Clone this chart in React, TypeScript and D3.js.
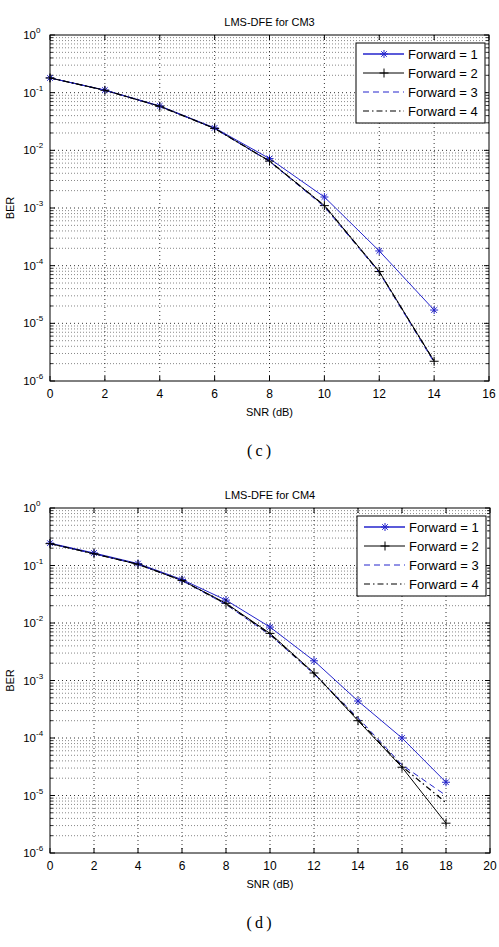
import React from 'react';
import * as d3 from 'd3';

// SNR (dB) points
const snrCM3 = [0, 2, 4, 6, 8, 10, 12, 14];
const snrCM4 = [0, 2, 4, 6, 8, 10, 12, 14, 16, 18];

// BER, CM3
const cm3Fwd1 = [0.18, 0.111, 0.059, 0.0245, 0.0072, 0.00155, 1.8e-4, 1.7e-5];
const cm3Fwd2 = [0.18, 0.11, 0.058, 0.024, 0.0065, 0.0011, 7.9e-5, 2.2e-6];
const cm3Fwd3 = [0.18, 0.11, 0.058, 0.024, 0.0064, 0.00105, 7.6e-5, 2.1e-6];
const cm3Fwd4 = [0.18, 0.11, 0.058, 0.024, 0.0065, 0.0011, 7.8e-5, 2.2e-6];

// BER, CM4
const cm4Fwd1 = [0.245, 0.165, 0.108, 0.057, 0.025, 0.0085, 0.0022, 4.4e-4, 1.0e-4, 1.7e-5];
const cm4Fwd2 = [0.24, 0.16, 0.105, 0.055, 0.022, 0.0066, 1.35e-3, 2.0e-4, 3.1e-5, 3.3e-6];
const cm4Fwd3 = [0.24, 0.16, 0.105, 0.055, 0.021, 0.0062, 1.3e-3, 2.25e-4, 3.4e-5, 1.0e-5];
const cm4Fwd4 = [0.24, 0.16, 0.105, 0.055, 0.0215, 0.0064, 1.32e-3, 2.1e-4, 3.2e-5, 7.5e-6];

const legendLabels = ['Forward = 1', 'Forward = 2', 'Forward = 3', 'Forward = 4'];
const decades = [0, -1, -2, -3, -4, -5, -6];

const BLUE = '#2424cc';
const FONT = '"Liberation Sans", Arial, sans-serif';

type Style = { color: string; dash?: string; marker?: 'star' | 'plus'; width: number };
const styles: Style[] = [
  { color: BLUE, marker: 'star', width: 1 },
  { color: '#000', marker: 'plus', width: 1 },
  { color: BLUE, dash: '6,4', width: 1 },
  { color: '#000', dash: '6,3,1.5,3', width: 1.2 },
];

function Marker({ kind, x, y, color }: { kind?: string; x: number; y: number; color: string }) {
  if (!kind) return null;
  const r = 4;
  const d = kind === 'star'
    ? `M${x - r},${y}H${x + r}M${x},${y - r}V${y + r}M${x - 2.8},${y - 2.8}L${x + 2.8},${y + 2.8}M${x - 2.8},${y + 2.8}L${x + 2.8},${y - 2.8}`
    : `M${x - 4.5},${y}H${x + 4.5}M${x},${y - 4.5}V${y + 4.5}`;
  return <path d={d} stroke={color} strokeWidth={1} fill="none" />;
}

type PanelProps = {
  left: number; right: number; top: number; bottom: number;
  xMax: number; snr: number[]; data: number[][];
  title: string; caption: string; captionY: number;
};

function Panel({ left, right, top, bottom, xMax, snr, data, title, caption, captionY }: PanelProps) {
  const x = d3.scaleLinear().domain([0, xMax]).range([left, right]);
  const y = d3.scaleLog().domain([1e-6, 1]).range([bottom, top]);
  const xTicks = d3.range(0, xMax + 1, 2);
  const minors: number[] = [];
  decades.slice(1).forEach(e => {
    for (let k = 2; k <= 9; k++) minors.push(k * Math.pow(10, e));
  });
  const line = d3.line<number>().x((_, i) => x(snr[i])).y(d => y(d));

  const lgX = right - 133, lgY = top + 8, lgW = 129, lgH = 80;

  return (
    <g fontFamily={FONT}>
      <text x={(left + right) / 2} y={top - 9} fontSize={11} textAnchor="middle">{title}</text>
      {/* minor grid */}
      {minors.map(v => (
        <line key={'mg' + v} x1={left} x2={right} y1={y(v)} y2={y(v)}
          stroke="#555" strokeWidth={0.7} strokeDasharray="1,2" />
      ))}
      {/* major grid */}
      {decades.slice(1, -1).map(e => (
        <line key={'yg' + e} x1={left} x2={right} y1={y(Math.pow(10, e))} y2={y(Math.pow(10, e))}
          stroke="#000" strokeWidth={0.8} strokeDasharray="1,3" />
      ))}
      {xTicks.slice(1, -1).map(t => (
        <line key={'xg' + t} x1={x(t)} x2={x(t)} y1={top} y2={bottom}
          stroke="#000" strokeWidth={0.8} strokeDasharray="1,3" />
      ))}
      {/* ticks */}
      {minors.map(v => (
        <g key={'mt' + v} stroke="#000" strokeWidth={0.8}>
          <line x1={left} x2={left + 3} y1={y(v)} y2={y(v)} />
          <line x1={right} x2={right - 3} y1={y(v)} y2={y(v)} />
        </g>
      ))}
      {decades.map(e => (
        <g key={'yt' + e}>
          <line x1={left} x2={left + 5} y1={y(Math.pow(10, e))} y2={y(Math.pow(10, e))} stroke="#000" />
          <line x1={right} x2={right - 5} y1={y(Math.pow(10, e))} y2={y(Math.pow(10, e))} stroke="#000" />
          <text x={left - 14} y={y(Math.pow(10, e)) + 4} fontSize={11.5} textAnchor="end">10</text>
          <text x={left - 14} y={y(Math.pow(10, e)) - 2} fontSize={8}>{e}</text>
        </g>
      ))}
      {xTicks.map(t => (
        <g key={'xt' + t}>
          <line x1={x(t)} x2={x(t)} y1={bottom} y2={bottom - 5} stroke="#000" />
          <line x1={x(t)} x2={x(t)} y1={top} y2={top + 5} stroke="#000" />
          <text x={x(t)} y={bottom + 17} fontSize={12} textAnchor="middle">{t}</text>
        </g>
      ))}
      <text x={(left + right) / 2} y={bottom + 35} fontSize={11} textAnchor="middle">SNR (dB)</text>
      <text transform={`translate(14,${(top + bottom) / 2}) rotate(-90)`} fontSize={11} textAnchor="middle">BER</text>
      {/* series */}
      {data.map((vals, si) => (
        <g key={'s' + si}>
          <path d={line(vals) || ''} fill="none" stroke={styles[si].color}
            strokeWidth={styles[si].width} strokeDasharray={styles[si].dash} />
          {vals.map((v, i) => (
            <Marker key={i} kind={styles[si].marker} x={x(snr[i])} y={y(v)} color={styles[si].color} />
          ))}
        </g>
      ))}
      <rect x={left} y={top} width={right - left} height={bottom - top} fill="none" stroke="#000" strokeWidth={1} />
      {/* legend */}
      <rect x={lgX} y={lgY} width={lgW} height={lgH} fill="#fff" stroke="#000" strokeWidth={1} />
      {legendLabels.map((lab, i) => {
        const ly = lgY + 11 + i * 19;
        const st = styles[i];
        return (
          <g key={lab}>
            <line x1={lgX + 7} x2={lgX + 48} y1={ly} y2={ly} stroke={st.color}
              strokeWidth={i === 0 ? 1.6 : st.width} strokeDasharray={st.dash} />
            <Marker kind={st.marker} x={lgX + 28} y={ly} color={st.color} />
            <text x={lgX + 52} y={ly + 4.5} fontSize={13}>{lab}</text>
          </g>
        );
      })}
      <text x={259} y={captionY} fontSize={16}
        fontFamily='"Liberation Serif", "Times New Roman", serif' textAnchor="middle">(&#8201;{caption}&#8201;)</text>
    </g>
  );
}

export default function App() {
  return (
    <svg width={499} height={947} style={{ position: 'absolute', left: 0, top: 0, background: '#fff' }}>
      <rect width={499} height={947} fill="#fff" />
      <Panel left={50} right={489} top={35} bottom={381} xMax={16} snr={snrCM3}
        data={[cm3Fwd1, cm3Fwd2, cm3Fwd3, cm3Fwd4]}
        title="LMS-DFE for CM3" caption="c" captionY={456} />
      <Panel left={50} right={490} top={508} bottom={853} xMax={20} snr={snrCM4}
        data={[cm4Fwd1, cm4Fwd2, cm4Fwd3, cm4Fwd4]}
        title="LMS-DFE for CM4" caption="d" captionY={928} />
    </svg>
  );
}
